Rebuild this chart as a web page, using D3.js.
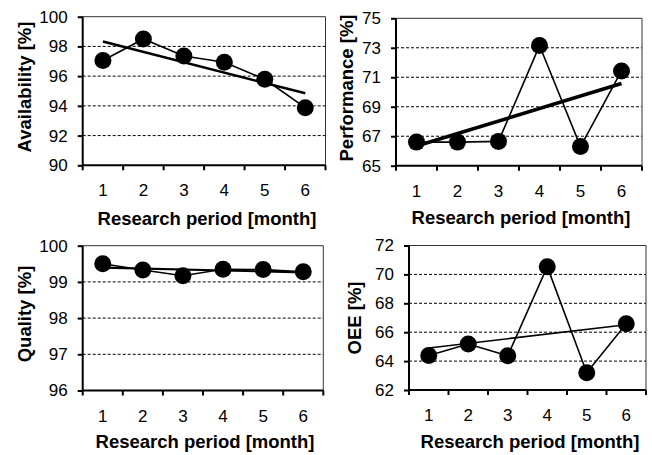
<!DOCTYPE html>
<html>
<head>
<meta charset="utf-8">
<script src="https://cdn.jsdelivr.net/npm/d3@7/dist/d3.min.js"></script>
<style>
  html, body { margin: 0; padding: 0; background: #fff; }
  svg { display: block; }
  text { font-family: "Liberation Sans", Arial, sans-serif; fill: #000; }
</style>
</head>
<body>
<svg id="chart" width="652" height="455"></svg>
<script>
// ---- data ----
const months = ["1", "2", "3", "4", "5", "6"];
const availability = [97.05, 98.5, 97.36, 96.93, 95.79, 93.88];
const performance = [66.6, 66.6, 66.65, 73.15, 66.3, 71.43];
const quality = [99.50, 99.33, 99.17, 99.35, 99.34, 99.28];
const oee = [64.39, 65.18, 64.37, 70.53, 63.2, 66.59];

const availabilityTicks = [90, 92, 94, 96, 98, 100];
const performanceTicks = [65, 67, 69, 71, 73, 75];
const qualityTicks = [96, 97, 98, 99, 100];
const oeeTicks = [62, 64, 66, 68, 70, 72];

const xTitle = "Research period [month]";
const yTitles = ["Availability [%]", "Performance [%]", "Quality [%]", "OEE [%]"];

// ---- layout ----
const panels = [
  { values: availability, ticks: availabilityTicks, title: yTitles[0],
    x0: 82.7, x1: 325.5, y0: 16.7, y1: 165.3, trendW: 2.6,
    yTitleX: 31, yTitleY: 87, xTitleX: 207, xTitleY: 225 },
  { values: performance, ticks: performanceTicks, title: yTitles[1],
    x0: 396, x1: 642, y0: 18.3, y1: 165.7, trendW: 3.6,
    yTitleX: 353, yTitleY: 88, xTitleX: 521, xTitleY: 224 },
  { values: quality, ticks: qualityTicks, title: yTitles[2],
    x0: 82.7, x1: 323.3, y0: 245.7, y1: 390.5, trendW: 2.2,
    yTitleX: 31, yTitleY: 314, xTitleX: 205, xTitleY: 448 },
  { values: oee, ticks: oeeTicks, title: yTitles[3],
    x0: 409, x1: 646, y0: 245.5, y1: 390, trendW: 1.6,
    yTitleX: 361, yTitleY: 318, xTitleX: 530, xTitleY: 448 }
];

function regression(vals) {
  const n = vals.length;
  const xs = vals.map((_, i) => i + 1);
  const mx = d3.mean(xs), my = d3.mean(vals);
  let sxy = 0, sxx = 0;
  for (let i = 0; i < n; i++) { sxy += (xs[i] - mx) * (vals[i] - my); sxx += (xs[i] - mx) ** 2; }
  const b = sxy / sxx, a = my - b * mx;
  return [a + b * 1, a + b * n];
}

const svg = d3.select("#chart");

panels.forEach(p => {
  const g = svg.append("g");
  const x = d3.scaleBand().domain(months).range([p.x0, p.x1]);
  const y = d3.scaleLinear().domain([p.ticks[0], p.ticks[p.ticks.length - 1]]).range([p.y1, p.y0]);
  const cx = m => x(m) + x.bandwidth() / 2;

  // gridlines (dashed)
  g.selectAll(".grid").data(p.ticks.slice(1, -1)).join("line")
    .attr("x1", p.x0).attr("x2", p.x1)
    .attr("y1", d => y(d)).attr("y2", d => y(d))
    .attr("stroke", "#000").attr("stroke-width", 1)
    .attr("stroke-dasharray", "3,2");

  // frame top/right
  g.append("path")
    .attr("d", `M${p.x0},${y(p.ticks[p.ticks.length - 1])}H${p.x1}V${p.y1}`)
    .attr("fill", "none").attr("stroke", "#333").attr("stroke-width", 1);

  // y axis
  const ya = g.append("g").attr("transform", `translate(${p.x0},0)`)
    .call(d3.axisLeft(y).tickValues(p.ticks).tickSize(5).tickPadding(10).tickFormat(d3.format("d")));
  ya.select(".domain").attr("stroke", "#000").attr("stroke-width", 2).attr("d", `M0,${p.y0}V${p.y1}`);
  ya.selectAll(".tick line").attr("stroke", "#000").attr("stroke-width", 2);
  ya.selectAll(".tick text").style("font-size", "17px").style("font-family", "'Liberation Sans', Arial, sans-serif");

  // x axis
  const xa = g.append("g").attr("transform", `translate(0,${p.y1})`)
    .call(d3.axisBottom(x).tickSize(0).tickPadding(19));
  xa.select(".domain").attr("stroke", "#000").attr("stroke-width", 2).attr("d", `M${p.x0},0H${p.x1}`);
  xa.selectAll(".tick text").style("font-size", "17px").style("font-family", "'Liberation Sans', Arial, sans-serif");
  // band boundary ticks
  const bounds = months.map(m => x(m)).concat([p.x1]);
  xa.selectAll(".btick").data(bounds).join("line")
    .attr("x1", d => d).attr("x2", d => d).attr("y1", 0).attr("y2", 5)
    .attr("stroke", "#000").attr("stroke-width", 2);

  // series line
  const line = d3.line().x((d, i) => cx(months[i])).y(d => y(d));
  g.append("path").datum(p.values).attr("d", line)
    .attr("fill", "none").attr("stroke", "#000").attr("stroke-width", 1.6);

  // markers
  g.selectAll(".pt").data(p.values).join("circle")
    .attr("cx", (d, i) => cx(months[i])).attr("cy", d => y(d)).attr("r", 8.5)
    .attr("fill", "#000");

  // linear trend line
  const tr = regression(p.values);
  g.append("line")
    .attr("x1", cx(months[0])).attr("y1", y(tr[0]))
    .attr("x2", cx(months[months.length - 1])).attr("y2", y(tr[1]))
    .attr("stroke", "#000").attr("stroke-width", p.trendW);

  // titles
  g.append("text")
    .attr("transform", `translate(${p.yTitleX},${p.yTitleY}) rotate(-90)`)
    .attr("text-anchor", "middle")
    .style("font-size", "18.5px").style("font-weight", "bold")
    .text(p.title);
  g.append("text")
    .attr("x", p.xTitleX).attr("y", p.xTitleY)
    .attr("text-anchor", "middle")
    .style("font-size", "18.5px").style("font-weight", "bold")
    .text(xTitle);
});
</script>
</body>
</html>
